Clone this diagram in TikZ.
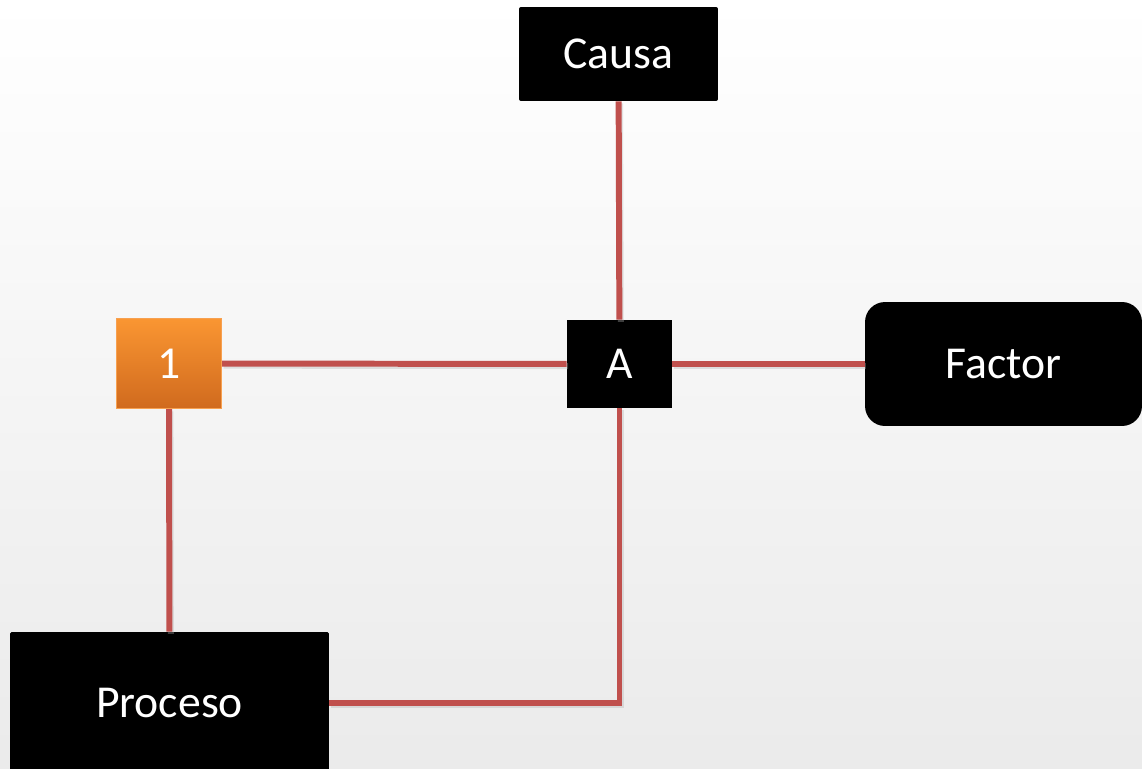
\documentclass[tikz,border=0pt]{standalone}
\usepackage{fontspec}
\setmainfont{Carlito}
\usetikzlibrary{positioning}
\definecolor{RougeLien}{HTML}{C0504D}
\definecolor{OrangeHaut}{HTML}{FA9632}
\definecolor{OrangeBas}{HTML}{D06A1E}
\definecolor{OrangeBord}{HTML}{F7A050}
\tikzset{
	boite/.style={fill=black, text=white, font=\fontsize{26}{30}\selectfont, inner sep=0pt, align=center},
	lien/.style={draw=RougeLien, line width=3.4pt,
		preaction={draw=black!30, opacity=0.35, line width=3.4pt, transform canvas={shift={(0.8pt,-1.2pt)}}}}
}
\begin{document}
\begin{tikzpicture}[x=0.02cm, y=-0.02cm]
			% fond en degrade
			\shade[top color=white, bottom color=black!8] (0,0) rectangle (1142,768);
			\useasboundingbox (0,0) rectangle (1142,768);
			%
			% Noeud central "A"
			\node[boite, minimum width=2.1cm, minimum height=1.76cm] (a) at (619.5,364) {A};
			% Causa au-dessus
			\node[boite, rounded corners=0.04cm, minimum width=3.98cm, minimum height=1.88cm] (causa) at (618.5,54) {Causa};
			% Factor a droite
			\node[boite, rounded corners=0.4cm, minimum width=5.54cm, minimum height=2.48cm] (factor) at (1003.5,364) {Factor};
			% Carre orange "1"
			\node[boite, shade, top color=OrangeHaut, bottom color=OrangeBas, draw=OrangeBord, line width=0.8pt, minimum width=2.1cm, minimum height=1.8cm] (un) at (169,363.5) {1};
			% Proceso en bas
			\node[boite, rounded corners=0.03cm, minimum width=6.38cm, minimum height=2.84cm] (proceso) at (169.5,703) {Proceso};
			%
			% Liens
			\draw[lien] (causa) -- (a);
			\draw[lien] (un) -- (a);
			\draw[lien] (a) -- (factor);
			\draw[lien] (un) -- (proceso);
			\draw[lien] (proceso.east) -| (a.south);
		\end{tikzpicture}
\end{document}
